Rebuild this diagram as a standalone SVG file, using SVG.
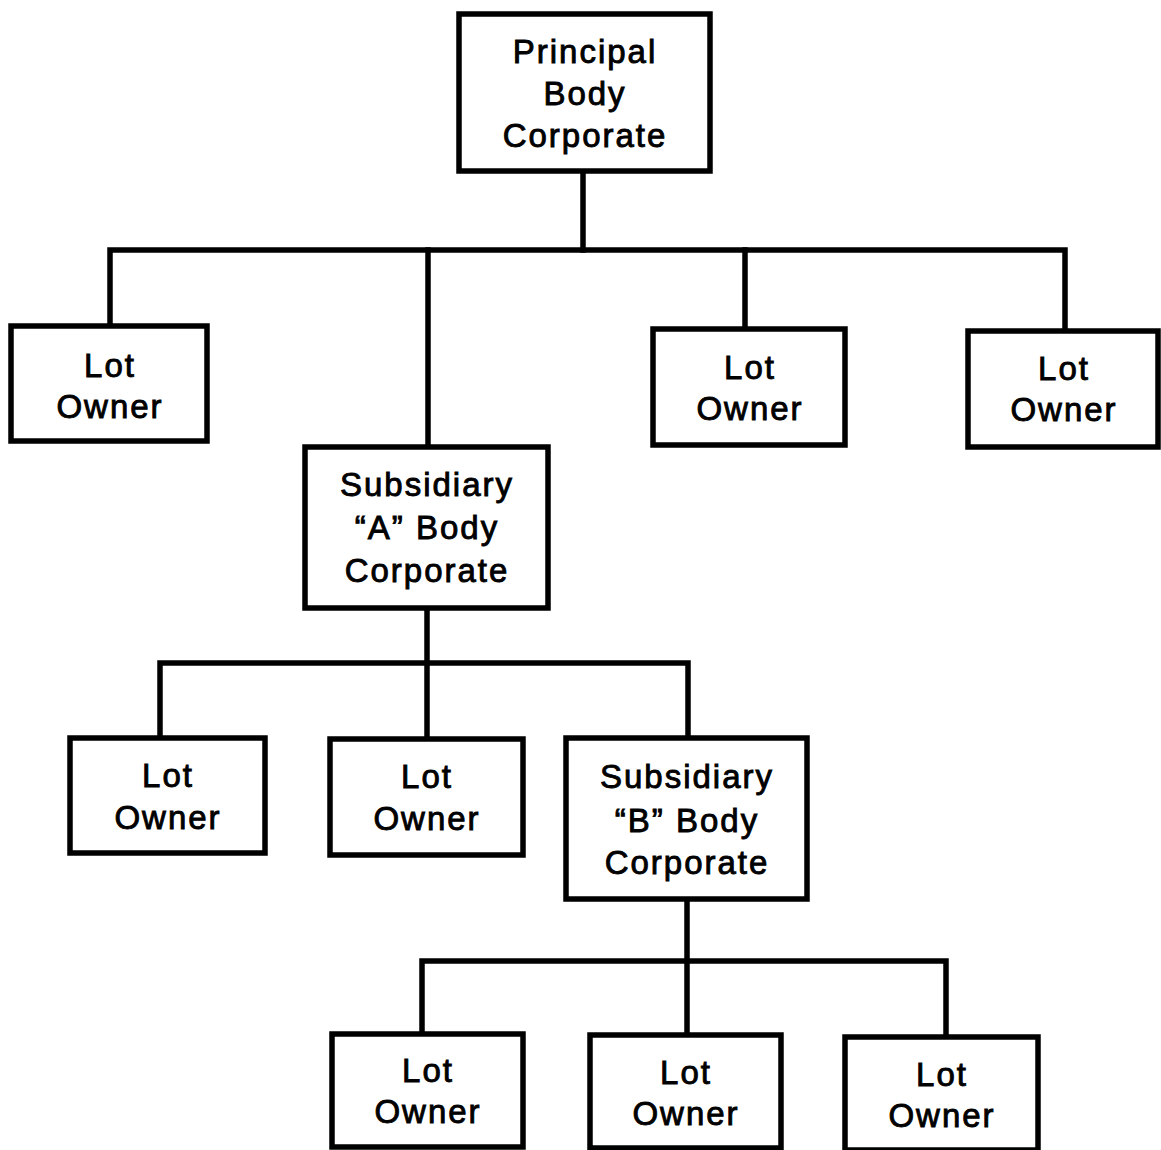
<svg xmlns="http://www.w3.org/2000/svg" width="1161" height="1150" viewBox="0 0 1161 1150">
  <style>
    .box { fill: #fff; stroke: #000; stroke-width: 5.5; }
    .wire { fill: none; stroke: #000; stroke-width: 5.5; stroke-linecap: square; }
    .lbl { font-family: "Liberation Sans", Arial, Helvetica, sans-serif; font-size: 33px; letter-spacing: 2px; text-anchor: middle; fill: #000; stroke: #000; stroke-width: 0.9; }
  </style>
  <rect width="1161" height="1150" fill="#fff"/>

  <!-- tree connectors -->
  <g id="connectors">
    <!-- principal to first tier -->
    <path class="wire" d="M583 171 V250"/>
    <path class="wire" d="M110 326 V250 H1065 V329"/>
    <path class="wire" d="M428 250 V447"/>
    <path class="wire" d="M745 250 V328"/>
    <!-- subsidiary A to second tier -->
    <path class="wire" d="M427 608 V737"/>
    <path class="wire" d="M160 737 V663 H688 V738"/>
    <!-- subsidiary B to third tier -->
    <path class="wire" d="M687 900 V1033"/>
    <path class="wire" d="M422 1032 V961 H946 V1035"/>
  </g>

  <g id="principal">
    <rect class="box" x="459" y="14" width="251" height="157"/>
    <text class="lbl" x="585" y="63">Principal</text>
    <text class="lbl" x="585" y="105">Body</text>
    <text class="lbl" x="585" y="147">Corporate</text>
  </g>

  <g id="lot1">
    <rect class="box" x="11" y="326" width="196" height="115"/>
    <text class="lbl" x="110" y="377">Lot</text>
    <text class="lbl" x="110" y="418">Owner</text>
  </g>

  <g id="lot2">
    <rect class="box" x="653" y="329" width="192" height="116"/>
    <text class="lbl" x="750" y="379">Lot</text>
    <text class="lbl" x="750" y="420">Owner</text>
  </g>

  <g id="lot3">
    <rect class="box" x="968" y="331" width="190" height="116"/>
    <text class="lbl" x="1064" y="380">Lot</text>
    <text class="lbl" x="1064" y="421">Owner</text>
  </g>

  <g id="subsidiary-a">
    <rect class="box" x="305" y="447" width="243" height="161"/>
    <text class="lbl" x="427" y="496">Subsidiary</text>
    <text class="lbl" x="427" y="539">“A” Body</text>
    <text class="lbl" x="427" y="582">Corporate</text>
  </g>

  <g id="lot4">
    <rect class="box" x="70" y="738" width="195" height="115"/>
    <text class="lbl" x="168" y="787">Lot</text>
    <text class="lbl" x="168" y="829">Owner</text>
  </g>

  <g id="lot5">
    <rect class="box" x="330" y="739" width="193" height="116"/>
    <text class="lbl" x="427" y="788">Lot</text>
    <text class="lbl" x="427" y="830">Owner</text>
  </g>

  <g id="subsidiary-b">
    <rect class="box" x="566" y="738" width="241" height="161"/>
    <text class="lbl" x="687" y="788">Subsidiary</text>
    <text class="lbl" x="687" y="832">“B” Body</text>
    <text class="lbl" x="687" y="874">Corporate</text>
  </g>

  <g id="lot6">
    <rect class="box" x="332" y="1034" width="191" height="113"/>
    <text class="lbl" x="428" y="1082">Lot</text>
    <text class="lbl" x="428" y="1123">Owner</text>
  </g>

  <g id="lot7">
    <rect class="box" x="590" y="1035" width="191" height="113"/>
    <text class="lbl" x="686" y="1084">Lot</text>
    <text class="lbl" x="686" y="1125">Owner</text>
  </g>

  <g id="lot8">
    <rect class="box" x="845" y="1037" width="193" height="113"/>
    <text class="lbl" x="942" y="1086">Lot</text>
    <text class="lbl" x="942" y="1127">Owner</text>
  </g>
</svg>
